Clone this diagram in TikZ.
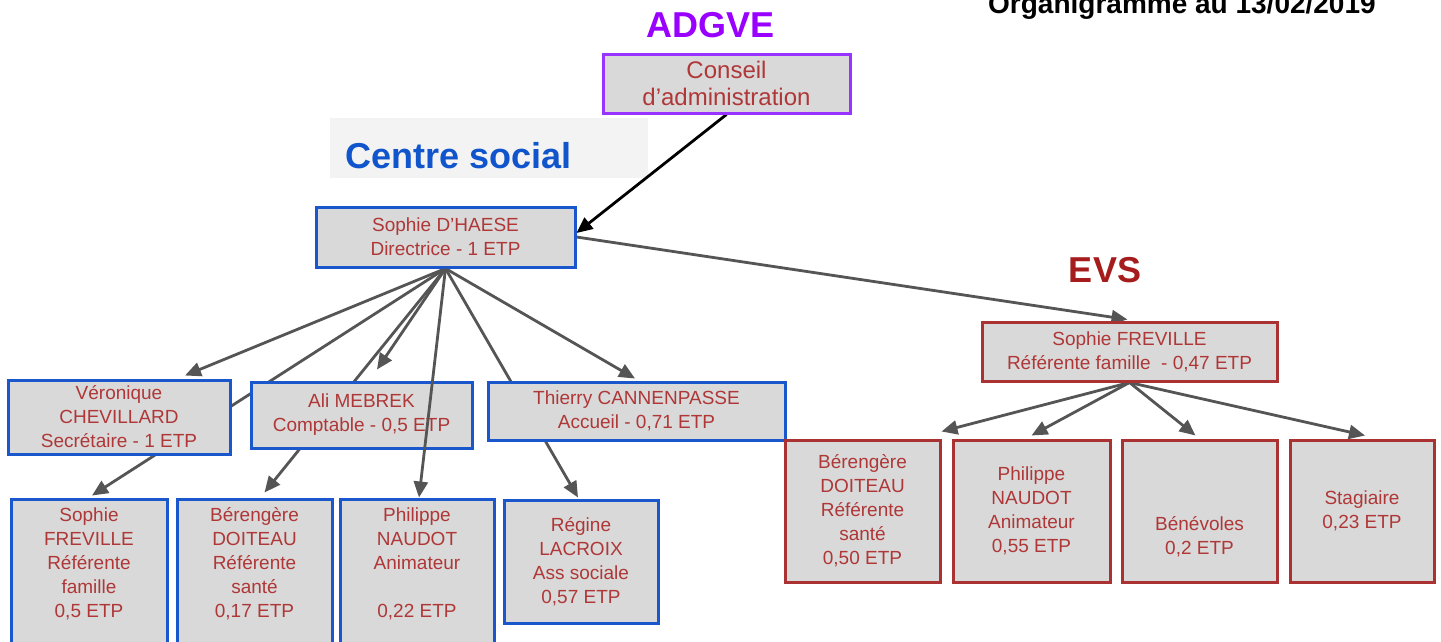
\documentclass[tikz,border=0pt]{standalone}
\usepackage{fontspec}
\setmainfont{Liberation Sans}
\usetikzlibrary{arrows.meta,calc}
\pgfdeclarelayer{bg}
\pgfdeclarelayer{edges}
\pgfsetlayers{bg,edges,main}
\definecolor{boxgray}{RGB}{217,217,217}
\definecolor{txtred}{RGB}{175,55,55}
\definecolor{bordblue}{RGB}{26,86,204}
\definecolor{bordred}{RGB}{170,50,50}
\definecolor{bordpurple}{RGB}{153,51,255}
\definecolor{linegray}{RGB}{85,85,85}
\definecolor{titlepurple}{RGB}{153,0,255}
\definecolor{titleblue}{RGB}{17,85,204}
\definecolor{titlered}{RGB}{166,28,28}
\definecolor{csbg}{RGB}{243,243,243}
\newcommand\boxfont{\fontsize{19}{24}\selectfont}
\newcommand\bigboxfont{\fontsize{24}{27}\selectfont}
\newcommand\titlefont{\fontsize{36}{40}\selectfont\bfseries}
\begin{document}
\begin{tikzpicture}[x=1pt,y=-1pt,
  box/.style={draw, line width=3pt, fill=boxgray, text=txtred, align=center, font=\boxfont, inner sep=0pt},
  bluebox/.style={box, draw=bordblue},
  redbox/.style={box, draw=bordred},
  purplebox/.style={box, draw=bordpurple, font=\bigboxfont},
  title/.style={font=\titlefont, inner sep=0pt},
  link/.style={draw=linegray, line width=2.8pt, -{Triangle[length=16pt,width=14pt]}},
  blink/.style={draw=black, line width=2.8pt, -{Triangle[length=16pt,width=14pt]}}]
\useasboundingbox (0,0) rectangle (1441,641);
\clip (0,0) rectangle (1441,641);
\begin{pgfonlayer}{bg}
\fill[white] (0,0) rectangle (1441,641);
\node[fill=csbg, minimum width=318pt, minimum height=60pt, inner sep=0pt] (csrect) at (489,148) {};
\end{pgfonlayer}

% titles
\node[title, text=titlepurple, anchor=base] (adgve) at (710.5,37) {ADGVE};
\node[title, text=titleblue, anchor=base west] (cstitle) at (345,168) {Centre social};
\node[title, text=titlered, anchor=base] (evs) at (1105,282) {EVS};
\node[font=\fontsize{28}{32}\selectfont\bfseries, inner sep=0pt, anchor=base west] (orga) at (988,13) {Organigramme au 13/02/2019};

% boxes
\node[purplebox, minimum width=247pt, minimum height=59pt] (conseil) at (726.5,83.5) {Conseil\\d’administration};
\node[bluebox, minimum width=259pt, minimum height=60pt] (dhaese) at (445.5,237) {Sophie D’HAESE\\Directrice - 1 ETP};
\node[bluebox, minimum width=222pt, minimum height=74pt] (veron) at (119,417) {Véronique\\CHEVILLARD\\Secrétaire - 1 ETP};
\node[bluebox, minimum width=221pt, minimum height=66pt] (ali) at (361.5,415) {Ali MEBREK\\Comptable - 0,5 ETP};
\node[bluebox, minimum width=297pt, minimum height=58pt] (thierry) at (636.5,411) {Thierry CANNENPASSE\\Accueil - 0,71 ETP};
\node[bluebox, minimum width=156pt, minimum height=158pt] (sophief) at (89,578) {Sophie\\FREVILLE\\Référente\\famille\\0,5 ETP\\\strut};
\node[bluebox, minimum width=155pt, minimum height=158pt] (berengL) at (254.5,578) {Bérengère\\DOITEAU\\Référente\\santé\\0,17 ETP\\\strut};
\node[bluebox, minimum width=154pt, minimum height=158pt] (philL) at (417,578) {Philippe\\NAUDOT\\Animateur\\\strut\\0,22 ETP\\\strut};
\node[bluebox, minimum width=154pt, minimum height=123pt] (regine) at (581,561.5) {Régine\\LACROIX\\Ass sociale\\0,57 ETP};

\node[redbox, minimum width=295pt, minimum height=59pt] (evssoph) at (1129.5,351.5) {Sophie FREVILLE\\Référente famille\ \ - 0,47 ETP};
\node[redbox, minimum width=155pt, minimum height=142pt] (berengR) at (862.5,511) {Bérengère\\DOITEAU\\Référente\\santé\\0,50 ETP};
\node[redbox, minimum width=157pt, minimum height=142pt] (philR) at (1031.5,511) {Philippe\\NAUDOT\\Animateur\\0,55 ETP};
\node[redbox, minimum width=155pt, minimum height=142pt] (benev) at (1199.5,511) {\strut\\\strut\\Bénévoles\\0,2 ETP};
\node[redbox, minimum width=144pt, minimum height=142pt] (stag) at (1362,511) {Stagiaire\\0,23 ETP};

% connectors (behind boxes)
\begin{pgfonlayer}{edges}
\draw[blink] (conseil.south) -- ($(dhaese.east)+(0,-4)$);
\draw[link] (dhaese.east) -- ($(evssoph.north)+(-2,-1)$);
\draw[link] (dhaese.south) -- ($(veron.north)+(66,-3)$);
\draw[link] (dhaese.south) -- ($(sophief.north)+(3,-2)$);
\draw[link] (dhaese.south) -- ($(berengL.north)+(10,-5)$);
\draw[link] (dhaese.south) -- ($(ali.north)+(15.5,-11)$);
\draw[link] (dhaese.south) -- ($(regine.north)+(-3,-1)$);
\draw[link] (dhaese.south) -- ($(thierry.north)+(-1.5,-2)$);
\draw[link] (evssoph.south) -- ($(berengR.north east)+(0,-7)$);
\draw[link] (evssoph.south) -- ($(philR.north)+(0,-3)$);
\draw[link] (evssoph.south) -- ($(benev.north)+(-4,-3)$);
\draw[link] (evssoph.south) -- ($(stag.north)+(3,-3)$);
\end{pgfonlayer}
% connector drawn over the Ali box
\draw[link] (dhaese.south) -- ($(philL.north)+(2,0)$);
\end{tikzpicture}
\end{document}
